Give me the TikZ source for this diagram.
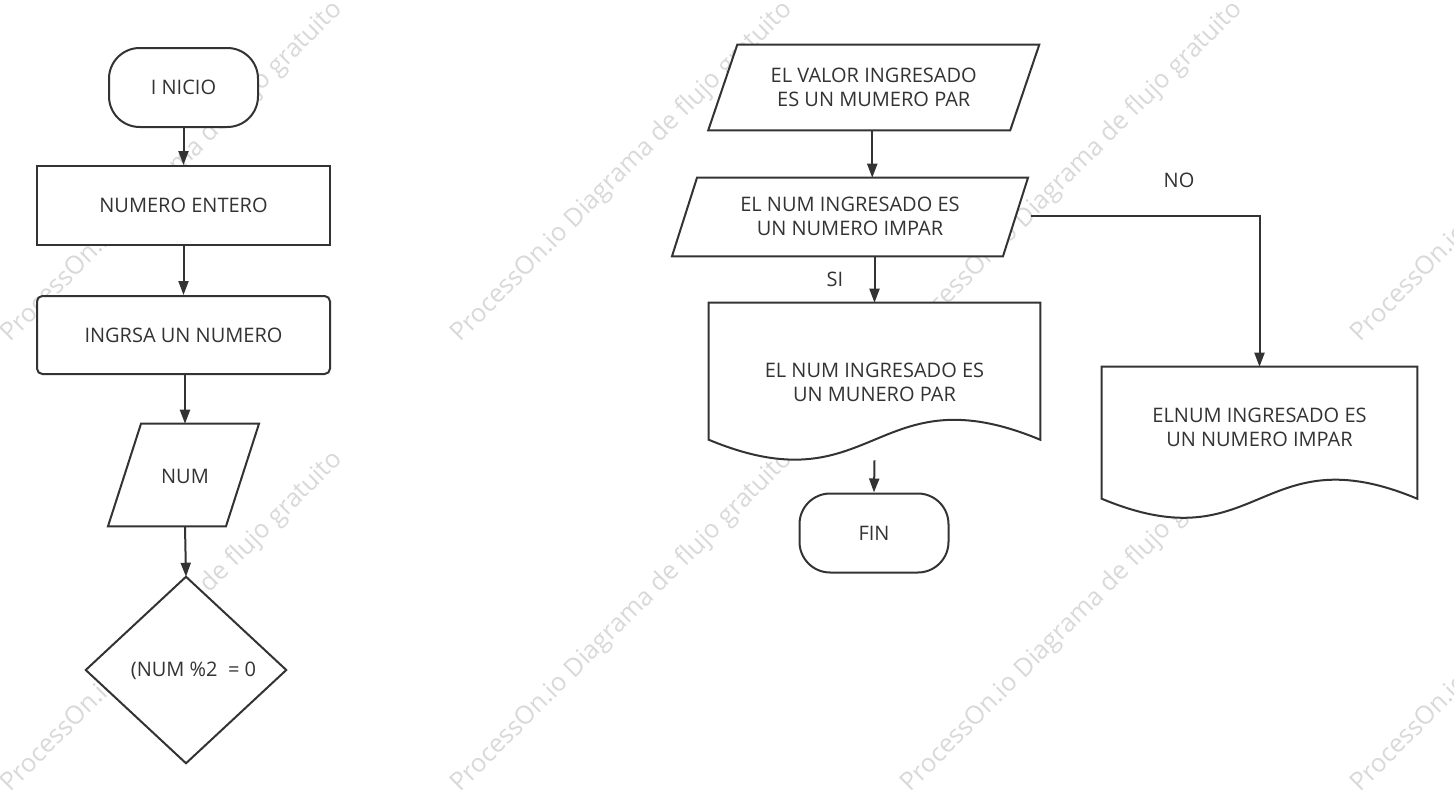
\documentclass[tikz,border=0pt]{standalone}
\usepackage{fontspec}
\setmainfont{Open Sans}
\usetikzlibrary{arrows.meta,calc}
\definecolor{ink}{HTML}{333333}
\definecolor{wmgray}{HTML}{D9D9D9}
\begin{document}
\begin{tikzpicture}[x=0.75pt,y=-0.75pt,
  every node/.style={font=\fontsize{15}{18}\selectfont, text=ink, align=center, inner sep=0pt},
  shp/.style={draw=ink, line width=1.5pt, fill=white},
  term/.style={shp, rounded corners=23pt, minimum width=111.75pt, minimum height=59.25pt},
  procbox/.style={shp, minimum width=219.75pt},
  conn/.style={draw=ink, line width=1.5pt, -{Triangle[length=10.5pt,width=7.5pt]}},
  wm/.style={font=\fontsize{19}{22}\selectfont, text=wmgray, rotate=45},
  lbl/.style={font=\fontsize{15}{18}\selectfont, text=ink}
]
\useasboundingbox (0,0) rectangle (1454,800);
\fill[white] (0,0) rectangle (1454,800);

% watermark
\begin{scope}
\clip (0,0) rectangle (1454,800);
\foreach \wx in {172,622,1072,1522}{
  \foreach \wy in {172,622}{
    \node[wm] (wm-\wx-\wy) at (\wx,\wy) {ProcessOn.io Diagrama de flujo gratuito};
  }
}
\end{scope}

% ---------- left column ----------
\node[term] (start) at (183.5,87.5) {I NICIO};
\node[procbox, minimum height=59.25pt] (ent) at (183.5,205.5) {NUMERO ENTERO};
\node[procbox, rounded corners=4pt, minimum height=58.5pt] (ing) at (183.5,335) {INGRSA UN NUMERO};

\node[minimum width=88.5pt, minimum height=76.5pt] (num) at (183.5,475) {};
\draw[shp] ($(num.north)+(-42.5,0)$) -- ($(num.north)+(75.5,0)$) -- ($(num.south)+(42.5,0)$) -- ($(num.south)+(-75.5,0)$) -- cycle;
\node at (185,476) {NUM};

\node[minimum width=150pt, minimum height=139.5pt] (dia) at (186,670) {};
\draw[shp] (dia.north) -- (dia.east) -- (dia.south) -- (dia.west) -- cycle;
\node (dialbl) at (193.5,671) {(NUM \%2\ \ = 0};

\draw[conn] (start.south) -- (ent.north);
\draw[conn] (ent.south) -- (ing.north);
\draw[conn] ($(ing.south)+(1.5,0)$) -- ($(num.north)+(1.5,0)$);
\draw[conn] ($(num.south)+(1.5,0)$) -- (dia.north);

% ---------- right column ----------
\node[minimum width=226.5pt, minimum height=63.75pt] (v1) at (873.75,87.5) {};
\draw[shp] ($(v1.north)+(-136.5,0)$) -- ($(v1.north)+(165.5,0)$) -- ($(v1.south)+(136.5,0)$) -- ($(v1.south)+(-165.5,0)$) -- cycle;
\node at (873.75,87.5) {EL VALOR INGRESADO\\ES UN MUMERO PAR};

\node[minimum width=248.25pt, minimum height=58.5pt] (v2) at (850,217) {};
\draw[shp] ($(v2.north)+(-153,0)$) -- ($(v2.north)+(178,0)$) -- ($(v2.south)+(153,0)$) -- ($(v2.south)+(-178,0)$) -- cycle;
\node at (850,216.5) {EL NUM INGRESADO ES\\UN NUMERO IMPAR};

\node[minimum width=248.25pt, minimum height=117.75pt] (d1) at (874.5,381.5) {};
\draw[shp] (d1.north west) -- (d1.north east) -- ($(d1.north east)+(0,137)$)
  .. controls ($(d1.north)+(0,68)$) and ($(d1.north)+(0,206)$) .. ($(d1.north west)+(0,137)$) -- cycle;
\node at (874.5,382) {EL NUM INGRESADO ES\\UN MUNERO PAR};

\node[term] (fin) at (874,533) {FIN};

\node[minimum width=236.25pt, minimum height=90pt] (d2) at (1259.5,427) {};
\draw[shp] (d2.north west) -- (d2.north east) -- ($(d2.north east)+(0,132)$)
  .. controls ($(d2.north)+(0,66)$) and ($(d2.north)+(0,198)$) .. ($(d2.north west)+(0,132)$) -- cycle;
\node at (1259.5,427) {ELNUM INGRESADO ES\\UN NUMERO IMPAR};

\coordinate (noStart) at (1031,216);
\coordinate (noCorner) at (1259.5,216);

\draw[conn] ($(v1.south)+(-1.5,0)$) -- ($(v1.south |- v2.north)+(-1.5,0)$);
\draw[conn] (v2.south -| d1.north) -- (d1.north);
\draw[conn] (d1.south) -- (fin.north);
\draw[conn] (noStart) -- (noCorner) -- (d2.north);

\node[lbl] (si) at (835,279) {SI};
\node[lbl] (no) at (1179,180) {NO};
\end{tikzpicture}
\end{document}
